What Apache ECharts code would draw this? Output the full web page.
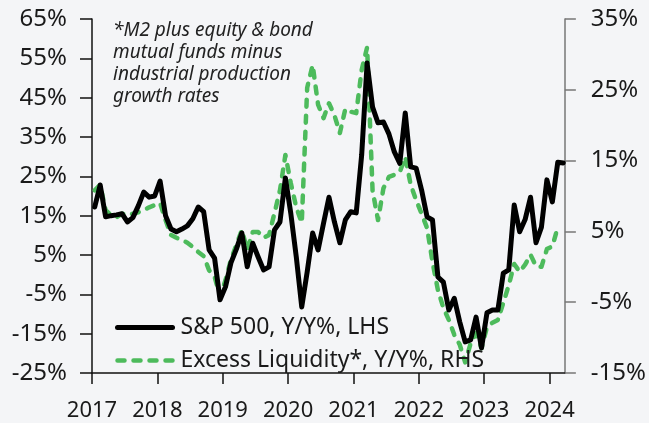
<!DOCTYPE html>
<html>
<head>
<meta charset="utf-8">
<script src="https://cdn.jsdelivr.net/npm/echarts@6/dist/echarts.min.js"></script>
<style>
  html, body { margin: 0; padding: 0; background: #f4f5f7; }
  #chart { width: 649px; height: 423px; }
</style>
</head>
<body>
<div id="chart"></div>
<script>
// Monthly year-over-year growth, January 2017 onward
const startYear = 2017;
const yearTicks = [0, 12, 24, 36, 48, 60, 72, 84];   // month offsets of each January

// S&P 500, Y/Y%, left axis (Jan 2017 - Mar 2024)
const sp500 = [
  17.2, 22.8, 14.7, 15.0, 15.2, 15.5, 13.4, 14.5, 17.5, 21.0, 19.7, 20.0,
  23.8, 15.0, 11.6, 10.9, 11.6, 12.4, 14.2, 17.2, 16.0, 6.3, 4.2, -6.4,
  -3.1, 3.0, 6.5, 10.6, 2.0, 8.0, 4.5, 1.2, 2.0, 11.4, 13.4, 24.6,
  15.5, 4.5, -8.2, 0.7, 10.6, 6.3, 13.1, 19.7, 13.4, 8.1, 13.9, 16.0,
  15.7, 30.4, 53.8, 42.6, 38.6, 38.8, 35.8, 31.2, 28.3, 41.1, 27.4, 27.1,
  21.5, 14.7, 13.9, -0.6, -1.9, -9.0, -6.0, -12.0, -17.1, -16.6, -10.8, -18.6,
  -9.7, -9.0, -9.0, 0.4, 1.2, 17.7, 10.9, 14.0, 19.7, 8.1, 12.1, 24.1,
  18.5, 28.6, 28.4
];

// Excess liquidity, Y/Y%, right axis (Jan 2017 - Feb 2024)
const excessLiquidity = [
  10.8, 11.6, 8.0, 7.3, 7.0, 7.5, 7.3, 7.5, 7.7, 8.0, 8.4, 8.7,
  9.0, 6.6, 4.5, 4.1, 3.8, 3.4, 2.8, 2.1, 1.5, -0.5, -1.4, -4.2,
  -1.9, 1.0, 3.1, 5.2, 2.4, 4.9, 4.9, 4.1, 4.5, 7.6, 10.8, 15.8,
  11.8, 8.4, 6.2, 25.3, 28.5, 22.9, 21.0, 23.1, 21.4, 18.9, 22.3, 21.9,
  21.7, 27.8, 31.0, 10.8, 6.6, 11.1, 12.7, 13.0, 13.4, 15.5, 11.6, 9.4,
  7.5, 5.5, 0.7, -3.3, -5.8, -7.5, -9.6, -11.0, -13.5, -10.8, -9.4, -11.5,
  -8.5, -7.9, -7.5, -5.1, -2.6, 0.4, -0.7, 0.3, 1.7, 0.1, 0.0, 2.5,
  2.9, 5.6
];

const leftTicks = { min: -25, max: 65, step: 10 };
const rightTicks = { min: -15, max: 35, step: 10 };

const seriesNames = ['S&P 500, Y/Y%, LHS', 'Excess Liquidity*, Y/Y%, RHS'];
const noteLines = ['*M2 plus equity & bond', 'mutual funds minus', 'industrial production', 'growth rates'];

// each month is drawn at the middle of its month
const MONTH_POS = 0.5;
const toPoints = arr => arr.map((v, i) => [i + MONTH_POS, v]);

const GREEN = '#4dbb5c';
const textFont = "'Noto Sans', sans-serif";
const valueLabelStyle = { fontFamily: textFont, fontSize: 24, color: '#1a1a1a' };
const yearLabelStyle = { fontFamily: textFont, fontSize: 22, color: '#1a1a1a' };

const chart = echarts.init(document.getElementById('chart'), null, { renderer: 'canvas' });
chart.setOption({
  backgroundColor: '#f4f5f7',
  animation: false,
  grid: { left: 92, right: 80, top: 19, bottom: 50, containLabel: false },
  graphic: [{
    type: 'text',
    left: 113,
    top: 20,
    style: {
      text: noteLines.join('\n'),
      font: 'italic 19px ' + textFont,
      lineHeight: 22,
      fill: '#222'
    }
  }],
  legend: {
    orient: 'vertical',
    left: 110,
    top: 311,
    itemWidth: 55,
    itemHeight: 22,
    itemGap: 10,
    itemStyle: { opacity: 0 },
    lineStyle: { width: 'inherit' },
    data: seriesNames,
    textStyle: { fontFamily: textFont, fontSize: 23, color: '#1a1a1a', padding: [0, 0, 0, 3] }
  },
  xAxis: {
    type: 'value',
    min: 0,
    max: 86.8,
    interval: 12,
    splitLine: { show: false },
    axisLine: { show: true, onZero: false, lineStyle: { color: '#111', width: 1.5 } },
    axisTick: { show: true, inside: false, length: 11, customValues: yearTicks, lineStyle: { color: '#111', width: 1.5 } },
    axisLabel: Object.assign({
      customValues: yearTicks,
      formatter: v => String(startYear + Math.round(v / 12)),
      margin: 27
    }, yearLabelStyle)
  },
  yAxis: [{
    type: 'value',
    position: 'left',
    min: leftTicks.min,
    max: leftTicks.max,
    interval: leftTicks.step,
    splitLine: { show: false },
    axisLine: { show: true, onZero: false, lineStyle: { color: '#111', width: 1.5 } },
    axisTick: { show: true, inside: false, length: 12, lineStyle: { color: '#111', width: 1.5 } },
    axisLabel: Object.assign({ formatter: '{value}%', margin: 25 }, valueLabelStyle)
  }, {
    type: 'value',
    position: 'right',
    min: rightTicks.min,
    max: rightTicks.max,
    interval: rightTicks.step,
    splitLine: { show: false },
    axisLine: { show: true, onZero: false, lineStyle: { color: '#777', width: 1.5 } },
    axisTick: { show: true, inside: false, length: 11, lineStyle: { color: '#777', width: 1.5 } },
    axisLabel: Object.assign({ formatter: '{value}%', margin: 26 }, valueLabelStyle)
  }],
  series: [{
    name: seriesNames[0],
    type: 'line',
    yAxisIndex: 0,
    data: toPoints(sp500),
    showSymbol: false,
    symbol: 'none',
    lineStyle: { color: '#000', width: 5, join: 'round', cap: 'round' },
    itemStyle: { color: '#000' },
    z: 3
  }, {
    name: seriesNames[1],
    type: 'line',
    yAxisIndex: 1,
    data: toPoints(excessLiquidity),
    showSymbol: false,
    symbol: 'none',
    lineStyle: { color: GREEN, width: 4.5, type: [7, 9], cap: 'round', join: 'round' },
    itemStyle: { color: GREEN },
    z: 2
  }]
});
</script>
</body>
</html>
